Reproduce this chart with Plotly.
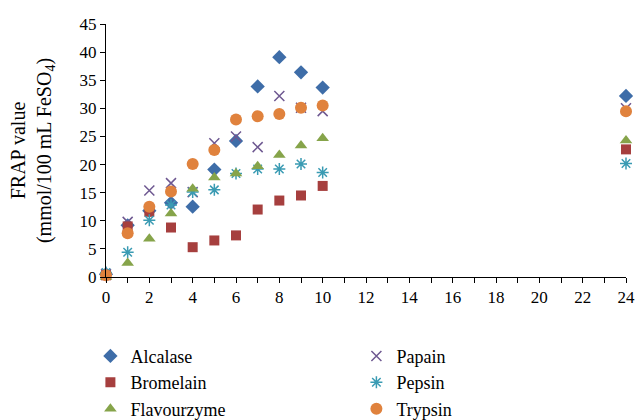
import plotly.graph_objects as go

time_h = [0, 1, 2, 3, 4, 5, 6, 7, 8, 9, 10, 24]
alcalase = [0.5, 9.2, 11.8, 13.2, 12.5, 19.1, 24.2, 33.9, 39.1, 36.4, 33.7, 32.2]
bromelain = [0.3, 9.0, 11.6, 8.8, 5.3, 6.5, 7.4, 12.0, 13.6, 14.5, 16.2, 22.7]
flavourzyme = [0.0, 2.5, 6.8, 11.3, 15.7, 17.7, 18.4, 19.7, 21.7, 23.4, 24.7, 24.3]
papain = [0.5, 9.8, 15.4, 16.7, 15.1, 23.8, 25.0, 23.1, 32.2, 30.1, 29.5, 30.0]
pepsin = [0.8, 4.4, 10.1, 12.8, 15.1, 15.5, 18.4, 19.2, 19.2, 20.1, 18.6, 20.2]
trypsin = [0.3, 7.8, 12.5, 15.2, 20.1, 22.6, 28.0, 28.6, 29.0, 30.1, 30.5, 29.5]

x_tickvals = list(range(0, 25, 2))
y_tickvals = list(range(0, 46, 5))

series = [
    ("Alcalase", alcalase, "diamond", "#3E6DA8", 11, 0),
    ("Papain", papain, "x-thin", "#6E5891", 10, 1.5),
    ("Bromelain", bromelain, "square", "#A63F3E", 10, 0),
    ("Pepsin", pepsin, "asterisk", "#3A9BB3", 10, 1.5),
    ("Flavourzyme", flavourzyme, "triangle-up", "#86A44A", 11, 0),
    ("Trypsin", trypsin, "circle", "#E0823D", 12, 0),
]

FF = "Liberation Serif"

fig = go.Figure()
for name, vals, sym, col, size, lw in series:
    if lw:
        marker = dict(symbol=sym, size=size, color=col, line=dict(color=col, width=lw))
    else:
        marker = dict(symbol=sym, size=size, color=col, line=dict(width=0))
    fig.add_trace(go.Scatter(x=time_h, y=vals, mode="markers", name=name,
                             marker=marker, cliponaxis=False))

fig.update_layout(
    width=637, height=420,
    margin=dict(l=106, r=11, t=24, b=143, autoexpand=False),
    paper_bgcolor="white", plot_bgcolor="white",
    font=dict(family=FF, size=17, color="black"),
    showlegend=True,
    legend=dict(orientation="h", x=-0.03, xanchor="left",
                y=-0.24, yanchor="top",
                entrywidth=221, entrywidthmode="pixels", traceorder="normal",
                font=dict(family=FF, size=18, color="black"), itemclick=False,
                tracegroupgap=0, bgcolor="rgba(0,0,0,0)"),
    xaxis=dict(range=[0, 24], tickvals=x_tickvals, ticks="outside", ticklen=5,
               tickcolor="black", showline=True, linecolor="black", linewidth=1,
               showgrid=False, zeroline=False, tickfont=dict(family=FF, size=17, color="black"),
               minor=dict(dtick=1, ticks="outside", ticklen=5, tickcolor="black", showgrid=False)),
    yaxis=dict(range=[0, 45], tickvals=y_tickvals, ticks="outside", ticklen=5,
               tickcolor="black", showline=True, linecolor="black", linewidth=1,
               showgrid=False, zeroline=False, tickfont=dict(family=FF, size=17, color="black"),
               title=dict(text="FRAP value<br>(mmol/100 mL FeSO<sub>4</sub>)",
                          font=dict(family=FF, size=20, color="black"), standoff=22)),
)

fig.write_html("out.html")
